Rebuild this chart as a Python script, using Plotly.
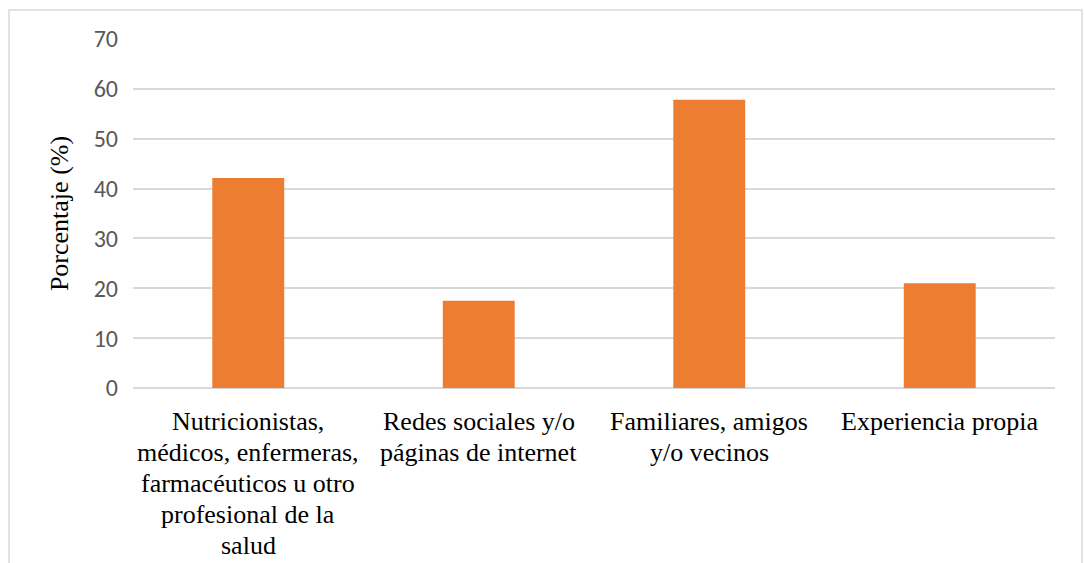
import plotly.graph_objects as go

categories = [
    "Nutricionistas,<br>médicos, enfermeras,<br>farmacéuticos u otro<br>profesional de la<br>salud",
    "Redes sociales y/o<br>páginas de internet",
    "Familiares, amigos<br>y/o vecinos",
    "Experiencia propia",
]
values = [42.1, 17.5, 57.8, 21.0]
y_ticks = [0, 10, 20, 30, 40, 50, 60, 70]
y_title = "Porcentaje (%)"

W, H = 1084, 563
L, R, T, B = 133, 29, 39, 175

fig = go.Figure()
fig.add_trace(go.Bar(
    x=list(range(len(categories))), y=values,
    marker=dict(color="#ED7D31", line=dict(width=0)),
    width=0.312,
    hoverinfo="skip",
))

# category labels, one annotation per line for tight line spacing
annotations = []
for i, lab in enumerate(categories):
    for j, line in enumerate(lab.split("<br>")):
        annotations.append(dict(
            x=i, xref="x", y=0, yref="y",
            text=line, showarrow=False,
            xanchor="center", yanchor="middle",
            yshift=-(33 + 31.2 * j),
            font=dict(family="Liberation Serif, Times New Roman, serif", size=26, color="#000000"),
        ))

plot_w = W - L - R
plot_h = H - T - B
def px_x(px):
    return (px - L) / plot_w
def px_y(py):
    return (H - B - py) / plot_h

fig.update_layout(
    width=W, height=H,
    margin=dict(l=L, r=R, t=T, b=B, pad=0),
    paper_bgcolor="white", plot_bgcolor="white",
    showlegend=False,
    bargap=0.688,
    annotations=annotations,
    shapes=[dict(
        type="rect", xref="paper", yref="paper",
        x0=px_x(9), x1=px_x(1082), y0=px_y(620), y1=px_y(10),
        line=dict(color="#d9d9d9", width=1.5), fillcolor="rgba(0,0,0,0)",
        layer="below",
    )],
    xaxis=dict(
        range=[-0.5, len(categories) - 0.5],
        showticklabels=False, showgrid=False, zeroline=False,
        showline=False, ticks="",
    ),
    yaxis=dict(
        range=[0, 70], tickvals=y_ticks, ticktext=[str(v) for v in y_ticks],
        showgrid=True, gridcolor="#d9d9d9", gridwidth=1.5,
        zeroline=True, zerolinecolor="#d9d9d9", zerolinewidth=1.5,
        showline=False, ticks="",
        ticklabelstandoff=14,
        tickfont=dict(family="Carlito, Lato, sans-serif", size=24, color="#595959"),
        title=dict(text=y_title, standoff=17,
                   font=dict(family="Liberation Serif, Times New Roman, serif", size=26, color="#000000")),
    ),
)

fig.write_html("out.html")
